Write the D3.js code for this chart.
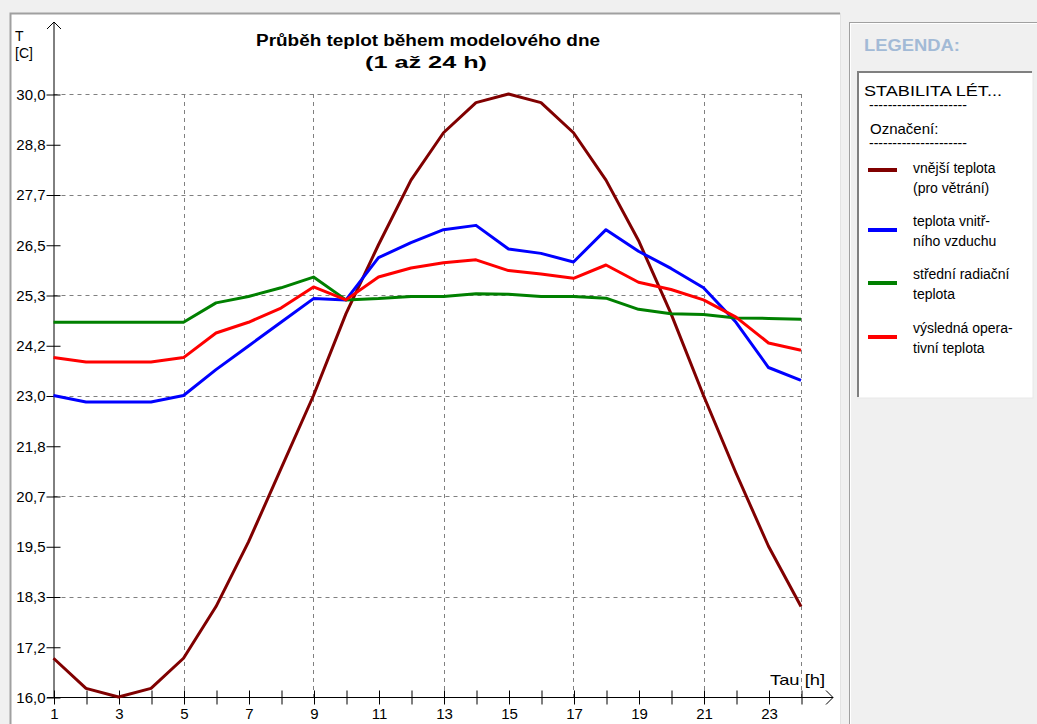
<!DOCTYPE html>
<html>
<head>
<meta charset="utf-8">
<script src="https://cdn.jsdelivr.net/npm/d3@7"></script>
<style>
  body { margin: 0; background: #f0f0f0; }
  svg { display: block; font-family: "Liberation Sans", Arial, sans-serif; }
</style>
</head>
<body>
<svg id="chart" width="1037" height="724"></svg>
<script>
// hours of the model day
let hours = [1, 2, 3, 4, 5, 6, 7, 8, 9, 10, 11, 12, 13, 14, 15, 16, 17, 18, 19, 20, 21, 22, 23, 24];

// temperatures [C]
let outdoor = [16.9, 16.2, 16.0, 16.2, 16.9, 18.1, 19.6, 21.3, 23.0, 24.9, 26.5, 28.0,
  29.1, 29.8, 30.0, 29.8, 29.1, 28.0, 26.6, 24.9, 23.0, 21.2, 19.5, 18.1];
let indoorAir = [23.0, 22.85, 22.85, 22.85, 23.0, 23.6, 24.15, 24.7, 25.25, 25.22, 26.2, 26.55,
  26.85, 26.95, 26.4, 26.3, 26.1, 26.85, 26.35, 25.95, 25.5, 24.7, 23.65, 23.35];
let radiant = [24.7, 24.7, 24.7, 24.7, 24.7, 25.15, 25.3, 25.5, 25.75, 25.22, 25.25, 25.3,
  25.3, 25.36, 25.35, 25.3, 25.3, 25.26, 25.0, 24.9, 24.88, 24.8, 24.79, 24.77];
let operative = [23.88, 23.78, 23.78, 23.78, 23.88, 24.45, 24.7, 25.03, 25.52, 25.22, 25.75, 25.96,
  26.08, 26.15, 25.9, 25.82, 25.72, 26.03, 25.63, 25.46, 25.22, 24.82, 24.22, 24.05];

let seriesNames = [
  ['vnější teplota', '(pro větrání)'],
  ['teplota vnitř-', 'ního vzduchu'],
  ['střední radiační', 'teplota'],
  ['výsledná opera-', 'tivní teplota']
];
let seriesColors = ['#800000', '#0000ff', '#008000', '#ff0000'];
let seriesValues = [outdoor, indoorAir, radiant, operative];

// axis: 16,0 .. 30,0 split into 12 steps
let yMin = 16, yMax = 30, ySteps = 12;
let yTicks = d3.range(ySteps + 1).map(i => yMin + i * (yMax - yMin) / ySteps);
let gridHours = [5, 9, 13, 17, 21, 24];

let titleLines = ['Průběh teplot během modelového dne', '(1 až 24 h)'];

let svg = d3.select('#chart');

// panels
svg.append('rect').attr('x', 10).attr('y', 13).attr('width', 830).attr('height', 720)
  .attr('fill', '#fff');
svg.append('path').attr('d', 'M10.5,724V13.5H840')
  .attr('fill', 'none').attr('stroke', '#a0a0a0').attr('stroke-width', 2);
svg.append('line').attr('x1', 840.5).attr('x2', 840.5).attr('y1', 13).attr('y2', 724)
  .attr('stroke', '#e3e3e3');

let x = d3.scaleLinear().domain([1, 24]).range([53.5, 801]);
let y = d3.scaleLinear().domain([yMin, yMax]).range([697, 94]);

// grid
let grid = svg.append('g').attr('stroke', '#808080').attr('stroke-dasharray', '4,4');
grid.selectAll('.vg').data(gridHours).enter().append('line')
  .attr('x1', d => Math.round(x(d)) + 0.5).attr('x2', d => Math.round(x(d)) + 0.5)
  .attr('y1', y(yMax)).attr('y2', y(yMin));
grid.selectAll('.hg').data(yTicks.filter((d, i) => i % 2 === 0 && i > 0)).enter().append('line')
  .attr('x1', x(1)).attr('x2', x(24))
  .attr('y1', d => Math.round(y(d)) + 0.5).attr('y2', d => Math.round(y(d)) + 0.5);

// axes
let fmt = d => d3.format('.1f')(d).replace('.', ',');
let yAxis = svg.append('g').attr('transform', 'translate(53.5,0.5)')
  .call(d3.axisLeft(y).tickValues(yTicks).tickFormat(fmt).tickSize(7).tickPadding(1).tickSizeOuter(0));
yAxis.select('.domain').remove();
yAxis.selectAll('.tick line').attr('x1', 7).attr('stroke', '#000');
yAxis.selectAll('.tick text').attr('font-size', 15).attr('fill', '#000')
  .attr('font-family', '"Liberation Sans", Arial, sans-serif');

let xAxis = svg.append('g').attr('transform', 'translate(0.5,697.5)')
  .call(d3.axisBottom(x).tickValues(hours).tickFormat(d => d % 2 ? d : '').tickSize(7).tickPadding(4).tickSizeOuter(0));
xAxis.select('.domain').remove();
xAxis.selectAll('.tick line').attr('y1', -7).attr('stroke', '#000');
xAxis.selectAll('.tick text').attr('font-size', 15).attr('fill', '#000')
  .attr('font-family', '"Liberation Sans", Arial, sans-serif');

let axisLines = svg.append('g').attr('stroke', '#000').attr('fill', 'none');
axisLines.append('path').attr('d', 'M54,697.5V22M47,29L54,22L61,29');
axisLines.append('path').attr('d', 'M47,697.5H833M826,690.5L833,697.5L826,704.5');

svg.append('text').attr('x', 15).attr('y', 41).attr('font-size', 14).text('T');
svg.append('text').attr('x', 15).attr('y', 58).attr('font-size', 14).text('[C]');
svg.append('text').attr('x', 770).attr('y', 685).attr('font-size', 15)
  .attr('textLength', 55).attr('lengthAdjust', 'spacingAndGlyphs').text('Tau [h]');

// title
svg.append('text').attr('x', 428).attr('y', 46).attr('text-anchor', 'middle')
  .attr('font-size', 16).attr('font-weight', 'bold')
  .attr('textLength', 344).attr('lengthAdjust', 'spacingAndGlyphs').text(titleLines[0]);
svg.append('text').attr('x', 426).attr('y', 68).attr('text-anchor', 'middle')
  .attr('font-size', 16).attr('font-weight', 'bold')
  .attr('textLength', 122).attr('lengthAdjust', 'spacingAndGlyphs').text(titleLines[1]);

// series
let line = d3.line().x((d, i) => x(hours[i])).y(d => y(d));
svg.append('g').selectAll('path').data(seriesValues).enter().append('path')
  .attr('d', line)
  .attr('fill', 'none')
  .attr('stroke', (d, i) => seriesColors[i])
  .attr('stroke-width', 3)
  .attr('stroke-linejoin', 'round');

// legend panel
let lg = svg.append('g');
lg.append('rect').attr('x', 849.5).attr('y', 22.5).attr('width', 200).attr('height', 720)
  .attr('fill', 'none').attr('stroke', '#a0a0a0');
lg.append('rect').attr('x', 850.5).attr('y', 23.5).attr('width', 200).attr('height', 720)
  .attr('fill', 'none').attr('stroke', '#fff');
lg.append('text').attr('x', 864).attr('y', 51).attr('font-size', 17).attr('font-weight', 'bold')
  .attr('fill', '#a2bad6').attr('textLength', 96).attr('lengthAdjust', 'spacingAndGlyphs')
  .text('LEGENDA:');
lg.append('rect').attr('x', 858).attr('y', 72).attr('width', 175).attr('height', 326)
  .attr('fill', '#fff').attr('stroke', '#e8e8e8');
lg.append('path').attr('d', 'M858,397V72H1032').attr('fill', 'none')
  .attr('stroke', '#808080').attr('stroke-width', 2);

lg.append('text').attr('x', 864).attr('y', 96).attr('font-size', 15)
  .attr('textLength', 138).attr('lengthAdjust', 'spacingAndGlyphs').text('STABILITA LÉT...');
lg.append('text').attr('x', 869).attr('y', 110).attr('font-size', 14).text('---------------------');
lg.append('text').attr('x', 870).attr('y', 134).attr('font-size', 15).text('Označení:');
lg.append('text').attr('x', 869).attr('y', 148).attr('font-size', 14).text('---------------------');

let swatchY = [170, 230, 283, 337];
let labelY = [173, 226, 279, 333];
let items = lg.selectAll('.item').data(seriesNames).enter().append('g');
items.append('line').attr('x1', 868).attr('x2', 897)
  .attr('y1', (d, i) => swatchY[i]).attr('y2', (d, i) => swatchY[i])
  .attr('stroke', (d, i) => seriesColors[i]).attr('stroke-width', 4);
items.append('text').attr('x', 913).attr('y', (d, i) => labelY[i]).attr('font-size', 14).text(d => d[0]);
items.append('text').attr('x', 913).attr('y', (d, i) => labelY[i] + 20).attr('font-size', 14).text(d => d[1]);
</script>
</body>
</html>
